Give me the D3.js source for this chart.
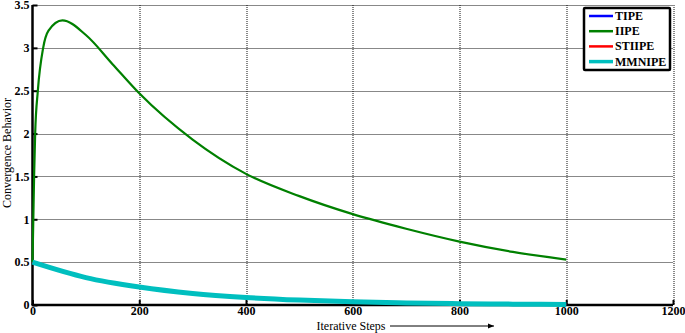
<!DOCTYPE html>
<html>
<head>
<meta charset="utf-8">
<script src="https://cdn.jsdelivr.net/npm/d3@7"></script>
<style>
  body { margin: 0; background: #fff; }
</style>
</head>
<body>
<div id="chart"></div>
<script>
// Data
const iipeSteps = [0, 1.5, 3, 5, 10, 20, 30, 56, 100, 150, 200, 300, 400, 500, 600, 700, 800, 900, 1000];
const iipeValues = [0.5, 1.0, 1.5, 2.0, 2.5, 3.0, 3.2, 3.32, 3.15, 2.81, 2.47, 1.93, 1.53, 1.27, 1.06, 0.89, 0.74, 0.62, 0.53];

const mmnipeSteps = [0, 100, 200, 300, 400, 500, 600, 700, 800, 900, 1000];
const mmnipeValues = [0.5, 0.32, 0.21, 0.135, 0.088, 0.057, 0.037, 0.024, 0.015, 0.01, 0.006];
// TIPE and STIIPE sit underneath the MMNIPE line
const tipeValues = mmnipeValues;
const stiipeValues = mmnipeValues;

const xTicks = [0, 200, 400, 600, 800, 1000, 1200];
const yTicks = [0, 0.5, 1, 1.5, 2, 2.5, 3, 3.5];
const legendNames = ['TIPE', 'IIPE', 'STIIPE', 'MMNIPE'];
const legendColors = ['#0000ff', '#008000', '#ff0000', '#00bfbf'];

const serif = "'Liberation Serif', 'DejaVu Serif', 'Times New Roman', serif";

// Set up margins
const width = 685, height = 333;
const margin = { top: 5, right: 12, bottom: 28, left: 32.5 };
const plotW = width - margin.left - margin.right;
const plotH = height - margin.top - margin.bottom;

const svg = d3.select('#chart')
  .append('svg')
  .attr('width', width)
  .attr('height', height)
  .attr('font-family', serif);

const g = svg.append('g')
  .attr('transform', `translate(${margin.left},${margin.top})`);

const x = d3.scaleLinear().domain([0, 1200]).range([0, plotW]);
const y = d3.scaleLinear().domain([0, 3.5]).range([plotH, 0]);

// Grid (dotted)
g.selectAll('.vgrid')
  .data(xTicks.slice(1))
  .enter().append('line')
  .attr('x1', d => Math.round(x(d)) + 0.5).attr('x2', d => Math.round(x(d)) + 0.5)
  .attr('y1', 0).attr('y2', plotH)
  .attr('stroke', '#111').attr('stroke-width', 1)
  .attr('stroke-dasharray', '1,1');

g.selectAll('.hgrid')
  .data(yTicks.slice(1))
  .enter().append('line')
  .attr('x1', 0).attr('x2', plotW)
  .attr('y1', d => Math.round(y(d)) + 0.5).attr('y2', d => Math.round(y(d)) + 0.5)
  .attr('stroke', '#111').attr('stroke-width', 1)
  .attr('stroke-dasharray', '1,1');

// Axes
const xAxis = d3.axisBottom(x).tickValues(xTicks).tickSize(-5).tickPadding(1).tickFormat(d3.format('d'));
const yAxis = d3.axisLeft(y).tickValues(yTicks).tickSize(-5).tickPadding(3).tickFormat(d => d);

const gx = g.append('g')
  .attr('transform', `translate(0,${plotH})`)
  .call(xAxis)
  .attr('font-family', serif)
  .attr('font-size', 12)
  .attr('font-weight', 'bold');
gx.select('.domain').attr('stroke-width', 2.5).attr('d', `M-1,0H${plotW}`);
gx.selectAll('.tick line').attr('stroke-width', 2);
gx.selectAll('text').attr('fill', '#000');

const gy = g.append('g').call(yAxis)
  .attr('font-family', serif)
  .attr('font-size', 12)
  .attr('font-weight', 'bold');
gy.select('.domain').attr('stroke-width', 2.5).attr('d', `M0,0V${plotH}`);
gy.selectAll('.tick line').attr('stroke-width', 2);
gy.selectAll('text').attr('fill', '#000');

// Lines
const line = d3.line()
  .x(d => x(d[0]))
  .y(d => y(d[1]))
  .curve(d3.curveMonotoneX);

const series = [
  { steps: mmnipeSteps, values: tipeValues, color: legendColors[0], w: 2 },
  { steps: mmnipeSteps, values: stiipeValues, color: legendColors[2], w: 2 },
  { steps: iipeSteps, values: iipeValues, color: legendColors[1], w: 2.2 },
  { steps: mmnipeSteps, values: mmnipeValues, color: legendColors[3], w: 5 }
];

series.forEach(s => {
  g.append('path')
    .datum(s.steps.map((d, i) => [d, s.values[i]]))
    .attr('d', line)
    .attr('fill', 'none')
    .attr('stroke', s.color)
    .attr('stroke-width', s.w);
});

// Legend
const lg = svg.append('g').attr('transform', 'translate(584,8)');
lg.append('rect')
  .attr('width', 86).attr('height', 62)
  .attr('fill', '#fff').attr('stroke', '#000').attr('stroke-width', 2.5).attr('rx', 1);

legendNames.forEach((name, i) => {
  const yy = 8 + i * 15.2;
  lg.append('line')
    .attr('x1', 5).attr('x2', 29)
    .attr('y1', yy).attr('y2', yy)
    .attr('stroke', legendColors[i])
    .attr('stroke-width', i === 3 ? 3.5 : 2.5);
  lg.append('text')
    .attr('x', 31).attr('y', yy + 4)
    .attr('font-size', 12).attr('font-weight', 'bold')
    .text(name);
});

// Label x axis
svg.append('text')
  .attr('x', 351).attr('y', 330)
  .attr('text-anchor', 'middle')
  .attr('font-size', 12)
  .text('Iterative Steps');

svg.append('defs').append('marker')
  .attr('id', 'arrow')
  .attr('viewBox', '0 0 10 10')
  .attr('refX', 10).attr('refY', 5)
  .attr('markerWidth', 8).attr('markerHeight', 6)
  .attr('orient', 'auto')
  .append('path').attr('d', 'M0,1L10,5L0,9Z').attr('fill', '#000');

svg.append('line')
  .attr('x1', 390).attr('x2', 494)
  .attr('y1', 326).attr('y2', 326)
  .attr('stroke', '#000').attr('stroke-width', 1)
  .attr('marker-end', 'url(#arrow)');

// Label y axis
svg.append('text')
  .attr('transform', 'translate(11,153) rotate(-90)')
  .attr('text-anchor', 'middle')
  .attr('font-size', 12)
  .text('Convergence Behavior');
</script>
</body>
</html>
